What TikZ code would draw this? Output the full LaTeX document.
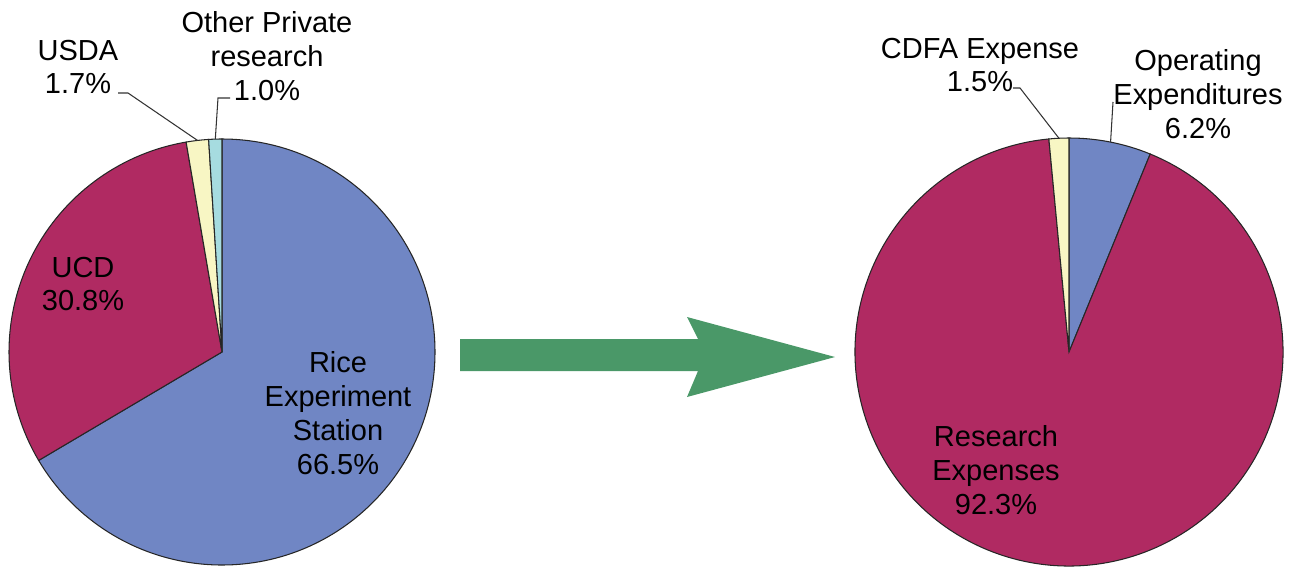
\documentclass[tikz,border=0pt]{standalone}
\usepackage{fontspec}
\setmainfont{Liberation Sans}
\usetikzlibrary{positioning}

\begin{document}
\begin{tikzpicture}[x=0.02cm, y=0.02cm,
    lbl/.style={align=center, inner sep=0pt,
        font=\fontsize{16.5}{19.3}\selectfont},
    slice/.style={draw=black!85, line width=0.6pt},
    leader/.style={draw=black!80, line width=0.6pt}]
\definecolor{station}{RGB}{112,134,196}
\definecolor{ucd}{RGB}{176,42,98}
\definecolor{usda}{RGB}{248,246,196}
\definecolor{private}{RGB}{166,220,224}
\definecolor{flow}{RGB}{74,152,104}

\useasboundingbox (0,0) rectangle (1290,569);

% ======================================================
% TORTA 1 (entrate)
% ======================================================

\coordinate (L) at (222,217);

% spicchi
\filldraw[slice, fill=station]
  (L) -- ++(90:213) arc[start angle=90, end angle=-149.4, radius=213] -- cycle;
\filldraw[slice, fill=ucd]
  (L) -- ++(210.6:213) arc[start angle=210.6, end angle=99.7, radius=213] -- cycle;
\filldraw[slice, fill=usda]
  (L) -- ++(99.7:213) arc[start angle=99.7, end angle=93.6, radius=213] -- cycle;
\filldraw[slice, fill=private]
  (L) -- ++(93.6:213) arc[start angle=93.6, end angle=90, radius=213] -- cycle;

% etichette
\node[lbl] (usdaLbl) at (78,502) {USDA\\1.7\%};
\node[lbl] (otherLbl) at (267,513) {Other Private\\research\\1.0\%};
\node[lbl] (ucdLbl) at (83,285) {UCD\\30.8\%};
\node[lbl] (rexLbl) at (338,156) {Rice\\Experiment\\Station\\66.5\%};

% richiami
\coordinate (usdaStart) at (118,476);
\coordinate (otherStart) at (230,471);
\path (L) ++(96.6:213) coordinate (usdaEdge);
\path (L) ++(91.8:213) coordinate (otherEdge);
\draw[leader] (usdaStart) -- ++(10,0) -- (usdaEdge);
\draw[leader] (otherStart) -- ++(-12,0) -- (otherEdge);

% ======================================================
% FRECCIA
% ======================================================

\fill[flow] (460,230) -- (698,230) -- (687,252) -- (835,212)
  -- (687,172) -- (698,198) -- (460,198) -- cycle;

% ======================================================
% TORTA 2 (uscite)
% ======================================================

\coordinate (R) at (1069,217);

% spicchi
\filldraw[slice, fill=station]
  (R) -- ++(90:214) arc[start angle=90, end angle=67.7, radius=214] -- cycle;
\filldraw[slice, fill=ucd]
  (R) -- ++(67.7:214) arc[start angle=67.7, end angle=-264.6, radius=214] -- cycle;
\filldraw[slice, fill=usda]
  (R) -- ++(95.4:214) arc[start angle=95.4, end angle=90, radius=214] -- cycle;

% etichette
\node[lbl] (cdfaLbl) at (980,504) {CDFA Expense\\1.5\%};
\node[lbl] (operLbl) at (1198,475) {Operating\\Expenditures\\6.2\%};
\node[lbl] (resLbl) at (996,99) {Research\\Expenses\\92.3\%};

% richiami
\coordinate (cdfaStart) at (1013,481);
\coordinate (operStart) at (1113,467);
\path (R) ++(92.7:214) coordinate (cdfaEdge);
\path (R) ++(78.8:214) coordinate (operEdge);
\draw[leader] (cdfaStart) -- ++(7,0) -- (cdfaEdge);
\draw[leader] (operStart) -- (operEdge);

\end{tikzpicture}
\end{document}
